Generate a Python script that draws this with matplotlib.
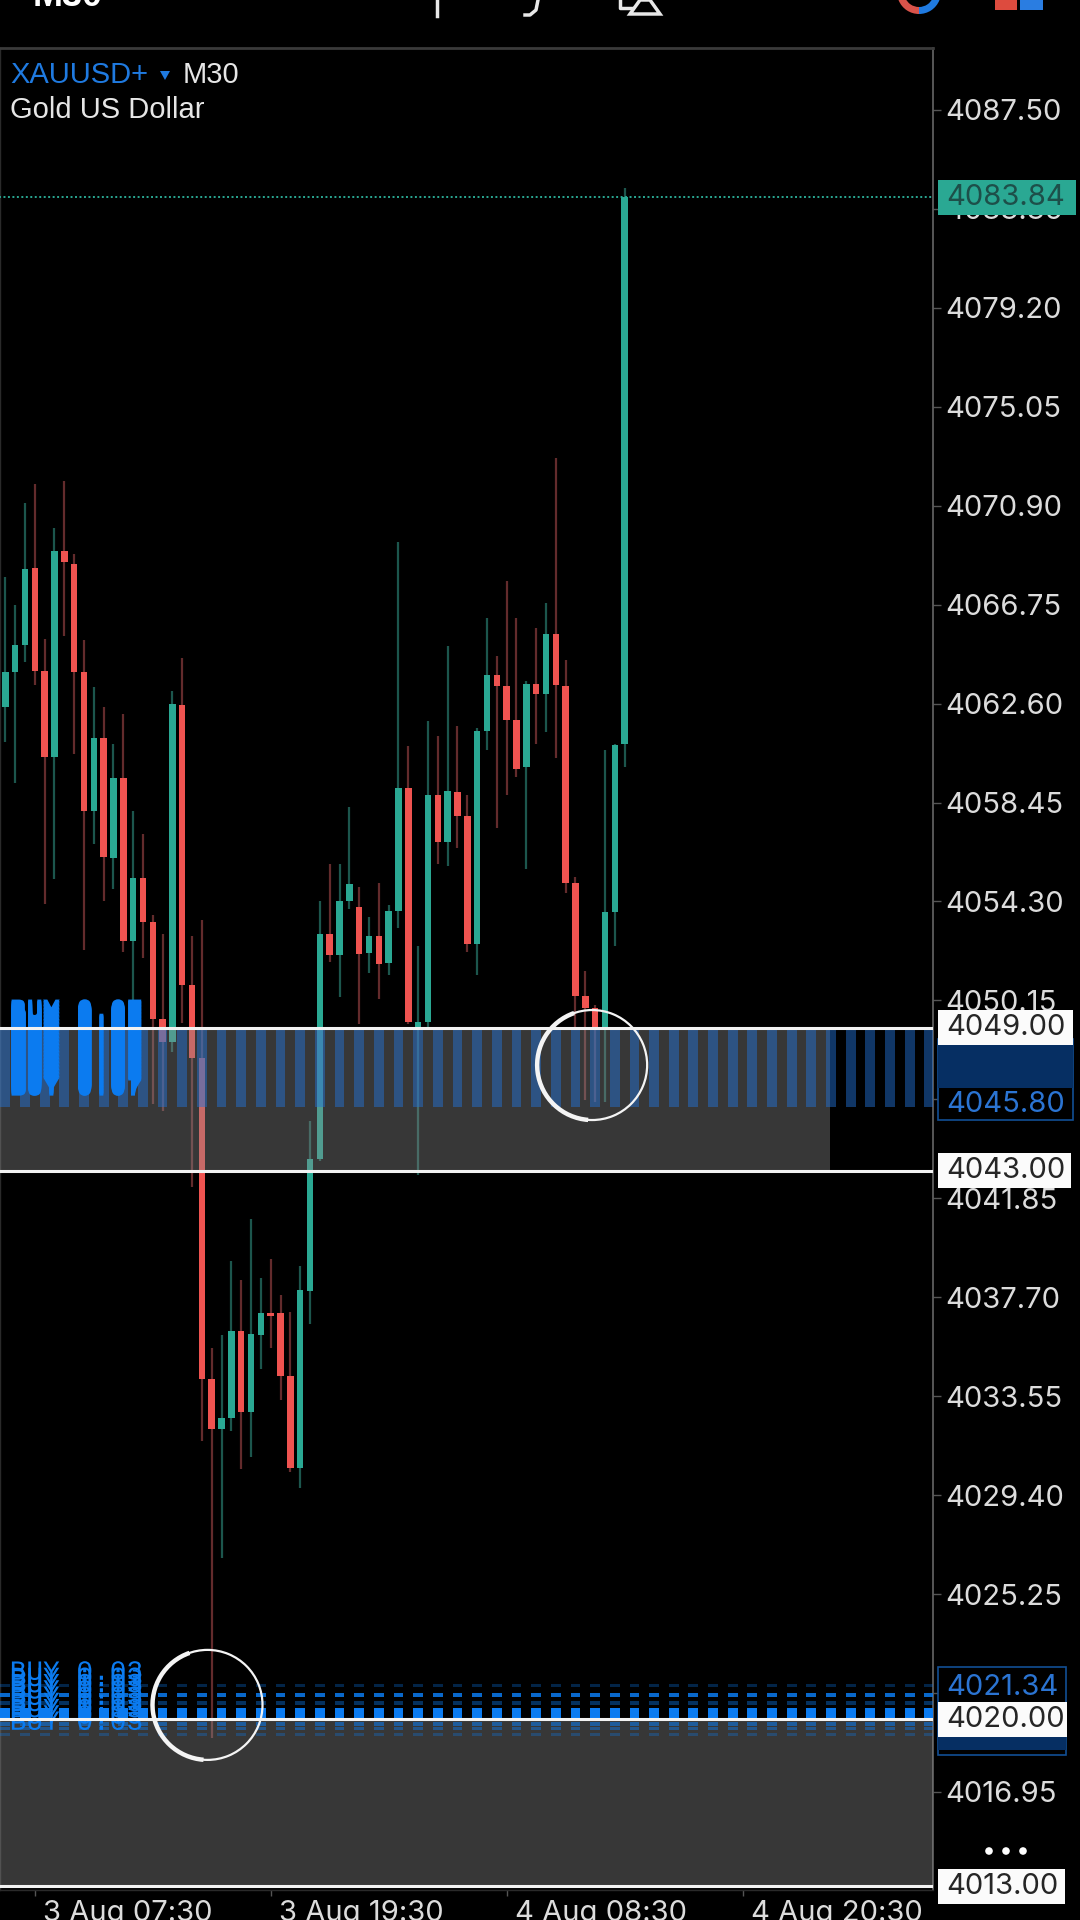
import matplotlib
matplotlib.use("Agg")
import matplotlib.pyplot as plt
import matplotlib.patheffects as pe
from matplotlib.patches import Rectangle, Circle, Wedge, Polygon, Arc
from matplotlib.transforms import ScaledTranslation
import numpy as np

# M30 candles, oldest first
opens = [4062.45, 4063.94, 4065.05, 4068.30, 4063.95, 4060.34, 4069.00, 4068.47, 4063.94, 4058.08,
         4061.16, 4056.11, 4059.48, 4052.64, 4055.29, 4053.46, 4049.38, 4048.41, 4062.53, 4050.80,
         4047.72, 4034.25, 4032.16, 4032.62, 4036.30, 4032.88, 4036.13, 4037.03, 4037.03, 4034.40,
         4030.53, 4037.97, 4043.50, 4052.94, 4052.05, 4054.31, 4054.06, 4052.12, 4052.86, 4051.70,
         4053.89, 4059.07, 4049.01, 4049.26, 4058.77, 4056.80, 4058.90, 4057.88, 4052.52, 4061.47,
         4063.82, 4063.34, 4061.92, 4059.96, 4063.42, 4063.01, 4065.51, 4063.35, 4055.08, 4050.34,
         4049.83, 4049.01, 4053.85, 4060.91]
closes = [4063.94, 4065.05, 4068.25, 4063.95, 4060.34, 4069.00, 4068.52, 4063.94, 4058.08, 4061.16,
          4056.15, 4059.48, 4052.64, 4055.29, 4053.46, 4049.38, 4048.41, 4062.57, 4050.80, 4047.72,
          4034.25, 4032.16, 4032.62, 4036.30, 4032.88, 4036.17, 4037.03, 4036.93, 4034.40, 4030.53,
          4038.01, 4043.50, 4052.94, 4052.05, 4054.31, 4055.05, 4052.09, 4052.86, 4051.66, 4053.89,
          4059.07, 4049.26, 4049.26, 4058.77, 4056.80, 4058.94, 4057.88, 4052.52, 4061.47, 4063.82,
          4063.34, 4061.92, 4059.86, 4063.44, 4063.01, 4065.51, 4063.39, 4055.08, 4050.34, 4049.83,
          4049.01, 4053.85, 4060.87, 4083.84]
highs = [4067.92, 4066.73, 4071.01, 4071.83, 4065.32, 4069.98, 4071.95, 4068.87, 4065.27, 4063.30,
         4062.45, 4060.91, 4062.16, 4058.08, 4057.14, 4053.72, 4052.94, 4063.13, 4064.50, 4052.86,
         4053.54, 4035.55, 4036.13, 4039.24, 4038.44, 4040.97, 4038.51, 4039.31, 4037.79, 4037.07,
         4039.02, 4045.09, 4054.31, 4055.86, 4055.86, 4058.25, 4054.91, 4053.63, 4055.08, 4054.14,
         4069.38, 4060.82, 4052.43, 4061.85, 4061.25, 4065.01, 4061.68, 4058.77, 4061.59, 4066.21,
         4064.59, 4067.75, 4066.21, 4063.56, 4065.78, 4066.81, 4072.89, 4064.42, 4055.34, 4051.40,
         4049.95, 4060.65, 4060.91, 4084.23]
lows = [4060.99, 4059.28, 4064.33, 4063.39, 4054.19, 4055.26, 4065.44, 4060.48, 4052.26, 4056.71,
        4054.31, 4054.83, 4052.17, 4049.35, 4051.92, 4045.81, 4045.52, 4047.98, 4049.20, 4042.34,
        4031.65, 4019.21, 4026.76, 4032.09, 4030.50, 4031.00, 4034.69, 4035.55, 4033.39, 4030.35,
        4029.70, 4036.56, 4043.40, 4051.75, 4050.29, 4053.97, 4049.18, 4051.32, 4050.21, 4051.23,
        4053.20, 4049.18, 4042.83, 4049.01, 4055.86, 4055.77, 4056.54, 4052.17, 4051.23, 4060.65,
        4057.40, 4058.77, 4059.54, 4055.68, 4060.91, 4061.42, 4060.31, 4054.66, 4049.01, 4045.97,
        4045.90, 4045.90, 4052.43, 4059.96]

price_ticks = [4087.50, 4083.35, 4079.20, 4075.05, 4070.90, 4066.75, 4062.60, 4058.45, 4054.30,
               4050.15, 4046.00, 4041.85, 4037.70, 4033.55, 4029.40, 4025.25, 4021.10, 4016.95]
time_tick_bars = [3, 27, 51, 75]
time_tick_labels = ["3 Aug 07:30", "3 Aug 19:30", "4 Aug 08:30", "4 Aug 20:30"]

last_price = 4083.84
level_lines = [4049.00, 4043.00, 4020.00, 4013.00]
buy_entries = [4045.80, 4021.34]
upper_zone = (4043.00, 4049.00)
lower_zone = (4013.00, 4020.00)
upper_order_band = (4045.70, 4048.95)
lower_order_rows = [4021.43, 4021.01, 4020.68, 4020.30, 4020.05, 4019.80, 4019.59, 4019.34]
circled_points = [(59.7, 4047.44), (20.57, 4020.60)]

W, H = 1080, 1920
PLOT_RIGHT, PLOT_TOP, PLOT_BOTTOM = 933, 48, 1890
BAR_PX = 9.83
PX_PER_USD = 23.84

GREEN = "#2aa893"
RED = "#ef5350"
WICK_GREEN = "#1c564d"
WICK_RED = "#632b2c"
BLUE = "#0b7bf0"
TICK_FS = 21

plt.rcParams["font.family"] = ["Liberation Sans", "DejaVu Sans"]
fig = plt.figure(figsize=(W / 100, H / 100), dpi=100, facecolor="black")
ax = fig.add_axes([0, 1 - PLOT_BOTTOM / H, PLOT_RIGHT / W, (PLOT_BOTTOM - PLOT_TOP) / H], facecolor="black")
ax.set_xlim(-5.3 / BAR_PX, (PLOT_RIGHT - 5.3) / BAR_PX)
ax.set_ylim(4087.5 - (PLOT_BOTTOM - 110) / PX_PER_USD, 4087.5 + (110 - PLOT_TOP) / PX_PER_USD)

# candles
idx = np.arange(len(opens))
o, c = np.array(opens), np.array(closes)
up = c >= o
ax.vlines(idx, lows, highs, colors=[WICK_GREEN if u else WICK_RED for u in up], linewidth=1.6, zorder=2)
ax.bar(idx, np.abs(c - o), bottom=np.minimum(o, c), width=0.66,
       color=[GREEN if u else RED for u in up], linewidth=0, zorder=3)

# grey zones sit over the candles
zone_right = 83.9
ax.add_patch(Rectangle((-1, upper_zone[0]), zone_right + 1, upper_zone[1] - upper_zone[0],
                       fc="#8c8c8c", alpha=0.4, lw=0, zorder=4))
ax.add_patch(Rectangle((-1, lower_zone[0]), 100, lower_zone[1] - lower_zone[0],
                       fc="#8c8c8c", alpha=0.4, lw=0, zorder=4))

# stacked order labels show up as stripes
stripe_bars = np.arange(0, 96, 2)
ax.bar(stripe_bars, upper_order_band[1] - upper_order_band[0], bottom=upper_order_band[0], width=1.0,
       color="#2373d7", alpha=0.48, linewidth=0, zorder=5)
row_alpha = [0.3, 0.85, 0.4, 1.0, 1.0, 0.55, 0.45, 0.3]
row_px = [3, 4, 4, 8, 4, 4, 3, 3]
for row, a, px in zip(lower_order_rows, row_alpha, row_px):
    ax.bar(stripe_bars, px / PX_PER_USD, bottom=row - px / PX_PER_USD / 2, width=1.0,
           color=BLUE, alpha=a, linewidth=0, zorder=5)

# the BUY labels are smeared upwards by the stacked orders
upper_smear = [pe.Stroke(offset=(0, k)) for k in np.arange(0, 57, 1.0)]
lower_smear = [pe.Stroke(offset=(0, k)) for k in np.arange(0, 37, 4.5)]
ax.text(0.45, 4046.45, "BUY 0.07", color=BLUE, fontsize=20, family="Liberation Mono", fontweight="bold",
        va="center", ha="left", zorder=6, path_effects=upper_smear)
ax.text(0.45, 4019.85, "BUY 0.03", color=BLUE, fontsize=20, family="Liberation Mono",
        va="center", ha="left", zorder=6, path_effects=lower_smear)

# level lines
ax.hlines(level_lines, -1, 100, colors="#f2f2f2", linewidth=2.2, zorder=7)
ax.hlines(last_price, -1, 100, colors=GREEN, linewidth=1.4, linestyles=(0, (1, 1.3)), zorder=7)

# circles around the entries, heavier on the lower left
ring_w, ring_h = 110 / BAR_PX, 110 / PX_PER_USD
for cx, cy in circled_points:
    ax.add_patch(Arc((cx, cy), ring_w, ring_h, color="#f4f4f4", lw=1.6, zorder=8, clip_on=False))
    ax.add_patch(Arc((cx, cy), ring_w, ring_h, theta1=130, theta2=260, color="#f4f4f4", lw=3.2, zorder=8))

ax.set_xticks(time_tick_bars, time_tick_labels)
ax.set_yticks(price_ticks, [f"{t:.2f}" for t in price_ticks])
ax.yaxis.tick_right()
ax.tick_params(axis="y", length=6, width=1, color="#555555", labelcolor="#dcdcdc", labelsize=TICK_FS, pad=3,
               labelfontfamily="Inter")
ax.tick_params(axis="x", length=4, width=1, color="#555555", labelcolor="#dcdcdc", labelsize=TICK_FS, pad=3,
               labelfontfamily="Inter")
for lab in ax.get_xticklabels():
    lab.set_ha("left")
    lab.set_transform(lab.get_transform() + ScaledTranslation(8 / 100, 0, fig.dpi_scale_trans))
for side, col, lw in [("top", "#3a3a3a", 2), ("right", "#666666", 1.2), ("left", "#2a2a2a", 1), ("bottom", "#2a2a2a", 1)]:
    ax.spines[side].set_color(col)
    ax.spines[side].set_linewidth(lw)

# right side price tags
trans = ax.get_yaxis_transform()
TAG_X = 1.005
TAG_H = 35 / PX_PER_USD
ax.add_patch(Rectangle((TAG_X, 4045.13), 0.145, 3.4, transform=trans, clip_on=False, fc="#000000",
                       ec="#124f94", lw=1.2, zorder=9))
ax.add_patch(Rectangle((TAG_X, 4046.48), 0.145, 1.8, transform=trans, clip_on=False, fc="#062f63", lw=0, zorder=9))
ax.add_patch(Rectangle((TAG_X, 4018.50), 0.138, 3.7, transform=trans, clip_on=False, fc="#000000",
                       ec="#124f94", lw=1.2, zorder=9))
ax.add_patch(Rectangle((TAG_X, 4018.71), 0.138, 0.63, transform=trans, clip_on=False, fc="#062f63", lw=0, zorder=9))
for val in buy_entries:
    ax.text(1.014, val, f"{val:.2f}", transform=trans, color="#2b74d2", fontsize=TICK_FS, family="Inter",
            va="center", ha="left", zorder=10)

tag_widths = {4049.00: 0.145, 4043.00: 0.143, 4020.00: 0.139, 4013.00: 0.137, last_price: 0.148}
for val in level_lines + [last_price]:
    is_last = val == last_price
    ax.add_patch(Rectangle((TAG_X, val - TAG_H / 2), tag_widths[val], TAG_H, transform=trans, clip_on=False,
                           fc=GREEN if is_last else "#fbfbfb", lw=0, zorder=11))
    ax.text(1.014, val, f"{val:.2f}", transform=trans, color="#1d4f49" if is_last else "#262626",
            fontsize=TICK_FS, family="Inter", va="center", ha="left", zorder=12)

# app chrome on top, in screen pixels
ui = fig.add_axes([0, 0, 1, 1])
ui.set_xlim(0, W)
ui.set_ylim(H, 0)
ui.axis("off")
ui.text(10, 75, "XAUUSD+", color="#1f7ae0", fontsize=21, va="center")
ui.add_patch(Polygon([[160, 71], [170, 71], [165, 80]], fc="#1f7ae0", lw=0))
ui.text(183, 75, "M30", color="#e6e6e6", fontsize=21, va="center")
ui.text(10, 110, "Gold US Dollar", color="#e6e6e6", fontsize=21, va="center")
ui.text(33, -3, "M30", color="white", fontsize=26, fontweight="bold", va="center", ha="left")
for x, y in [(989, 1851), (1006, 1851), (1023, 1851)]:
    ui.add_patch(Circle((x, y), 3.8, fc="white", lw=0))

# clipped toolbar icons
ui.plot([437, 437], [0, 16], color="#e8e8e8", lw=2.5)
ui.plot([538, 536, 530, 525], [0, 10, 15, 15], color="#e8e8e8", lw=2.5)
ui.plot([620, 620, 632], [0, 8, 8], color="#e8e8e8", lw=2.5)
ui.add_patch(Polygon([[640, 0], [630, 14], [660, 14], [650, 0]], fc="none", ec="#e8e8e8", lw=2.5))
ui.add_patch(Wedge((919, -8), 22, 90, 225, width=7, fc="#d9534a", lw=0))
ui.add_patch(Wedge((919, -8), 22, -45, 90, width=7, fc="#1f7ae0", lw=0))
ui.add_patch(Rectangle((995, 0), 22, 10, fc="#dd4b3e", lw=0))
ui.add_patch(Rectangle((1020, 0), 23, 10, fc="#2a7de1", lw=0))

fig.savefig("out.png", dpi=100, facecolor="black")
plt.close(fig)
